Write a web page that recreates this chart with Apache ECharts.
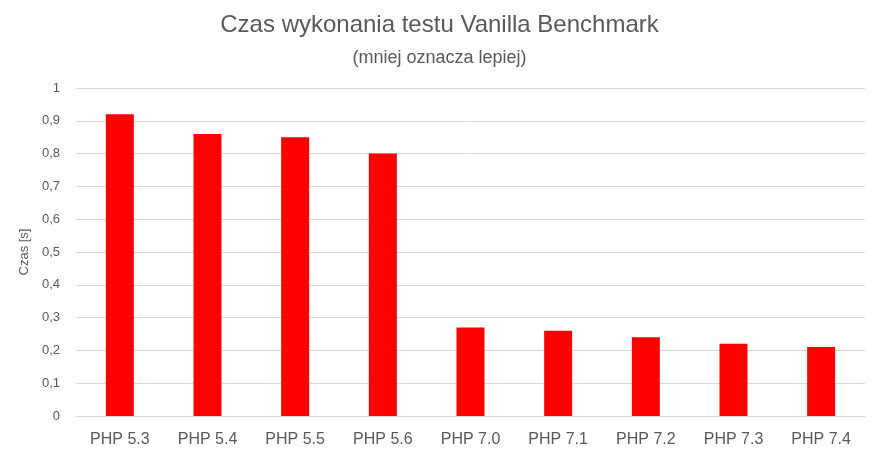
<!DOCTYPE html>
<html>
<head>
<meta charset="utf-8">
<script src="https://cdn.jsdelivr.net/npm/echarts@6/dist/echarts.min.js"></script>
<style>
  html, body { margin: 0; padding: 0; background: #fff; }
  #chart { width: 879px; height: 461px; }
</style>
</head>
<body>
<div id="chart"></div>
<script>
var categories = ["PHP 5.3", "PHP 5.4", "PHP 5.5", "PHP 5.6", "PHP 7.0", "PHP 7.1", "PHP 7.2", "PHP 7.3", "PHP 7.4"];
var times = [0.92, 0.86, 0.85, 0.80, 0.27, 0.26, 0.24, 0.22, 0.21];

var font = "'Liberation Sans', 'Noto Sans', sans-serif";
var chart = echarts.init(document.getElementById("chart"));
chart.setOption({
  backgroundColor: "#fff",
  animation: false,
  title: {
    text: "Czas wykonania testu Vanilla Benchmark",
    subtext: "(mniej oznacza lepiej)",
    left: "center",
    top: 8,
    itemGap: 12,
    textStyle: { fontFamily: font, fontSize: 24, fontWeight: "normal", color: "#595959" },
    subtextStyle: { fontFamily: font, fontSize: 18, color: "#595959" }
  },
  grid: { left: 76, right: 14, top: 88, bottom: 45 },
  xAxis: {
    type: "category",
    data: categories,
    axisLine: { lineStyle: { color: "#d9d9d9" } },
    axisTick: { show: false },
    axisLabel: { fontFamily: font, fontSize: 16, color: "#595959", margin: 16 }
  },
  yAxis: {
    type: "value",
    min: 0,
    max: 1,
    interval: 0.1,
    name: "Czas [s]",
    nameLocation: "middle",
    nameGap: 40,
    nameTextStyle: { fontFamily: font, fontSize: 13, color: "#595959" },
    axisLine: { show: false },
    axisTick: { show: false },
    axisLabel: {
      fontFamily: font, fontSize: 13, color: "#595959", margin: 16,
      formatter: function (v) { return String(Math.round(v * 10) / 10).replace(".", ","); }
    },
    splitLine: { lineStyle: { color: "#d9d9d9" } }
  },
  series: [{
    type: "bar",
    data: times,
    barWidth: 28,
    itemStyle: { color: "#ff0000" }
  }]
});
</script>
</body>
</html>
